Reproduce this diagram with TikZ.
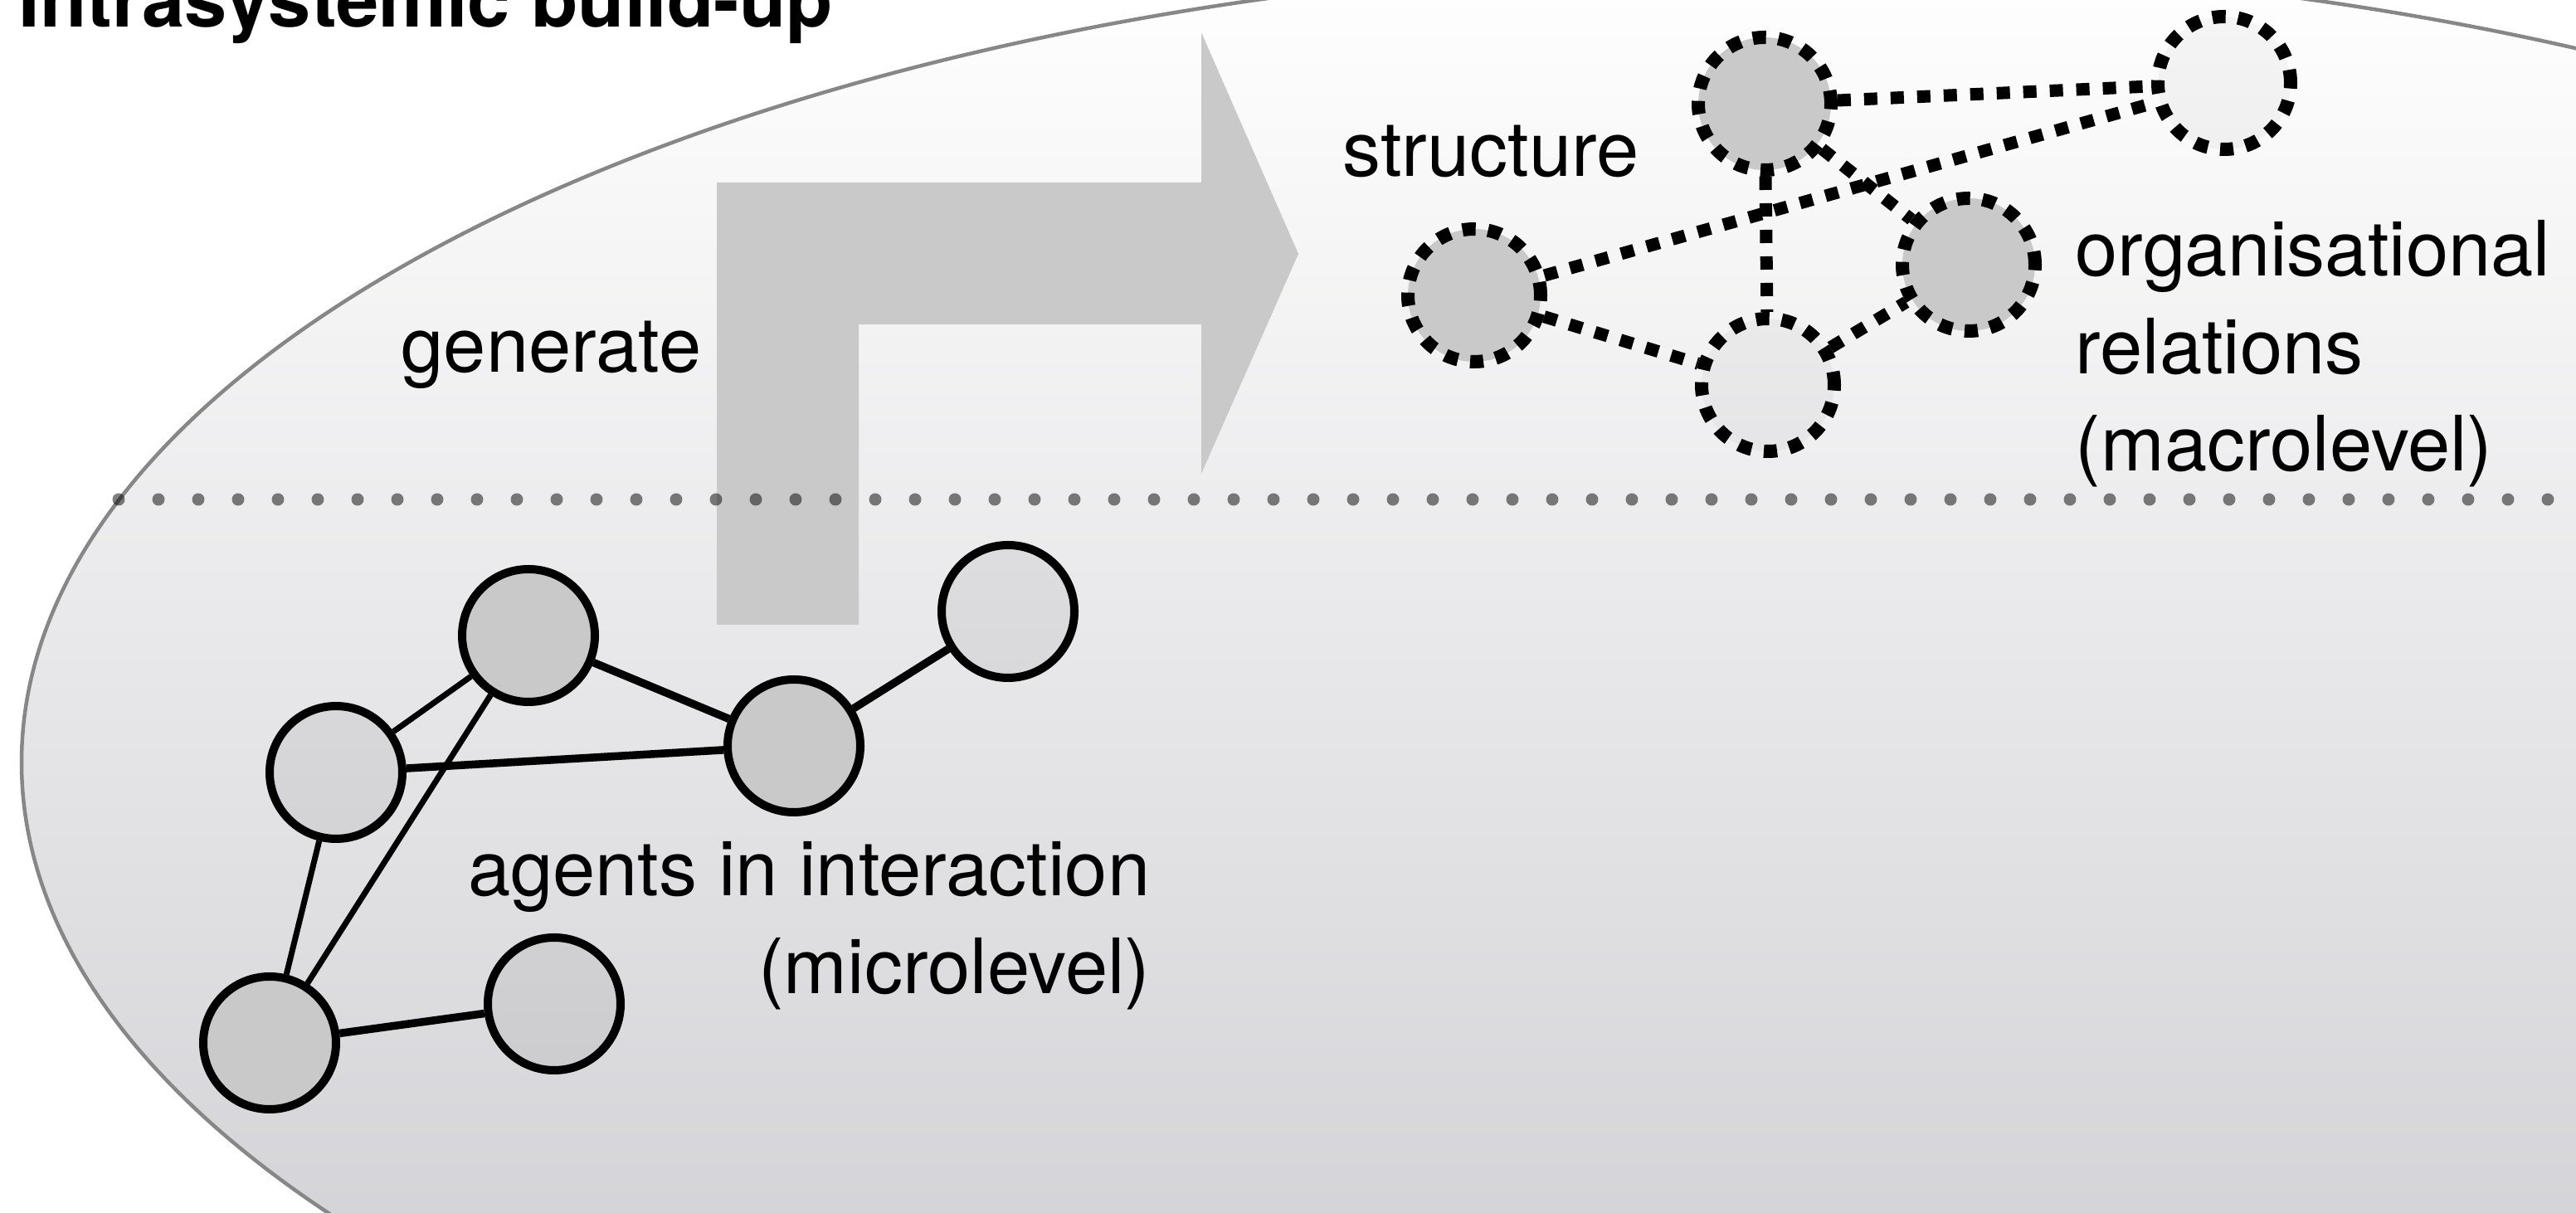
\documentclass[tikz,border=0pt]{standalone}
\usepackage{fontspec}
\setmainfont{TeX Gyre Heros}
\usepackage{tikz}
\definecolor{nodegray}{RGB}{201,201,201}
\definecolor{ellmid}{RGB}{232,232,234}
\definecolor{ellbot}{RGB}{201,201,206}
\definecolor{rimgray}{RGB}{135,135,135}

\begin{document}
\begin{tikzpicture}[
	agent/.style={circle,draw=black,line width=0.1cm,minimum size=1.6cm,inner sep=0},
	org/.style={circle,draw=black,line width=0.16cm,dash pattern=on 0.16cm off 0.15cm,minimum size=1.6cm,inner sep=0},
	dark/.style={fill=nodegray},
	pale/.style={fill=black,fill opacity=0.06},
	faint/.style={fill=black,fill opacity=0.035},
	tie/.style={line width=0.07cm},
	bond/.style={line width=0.095cm},
	orgtie/.style={line width=0.15cm,dash pattern=on 0.16cm off 0.16cm},
	lbl/.style={font=\fontsize{26.2}{33.4}\selectfont,inner sep=0}]
	\useasboundingbox (0,0) rectangle (31.05,-14.62);
	\clip (0,0) rectangle (31.05,-14.62);

	%SYSTEM
	\shade[top color=white,middle color=ellmid,bottom color=ellbot] (21.51,-9.19) ellipse [x radius=21.25,y radius=9.63];
	\draw[rimgray,line width=0.045cm] (21.51,-9.19) ellipse [x radius=21.25,y radius=9.63];

	%GENERATE ARROW
	\fill[nodegray] (8.64,-7.53)--(8.64,-2.20)--(14.48,-2.20)--(14.48,-0.39)--(15.65,-3.06)--(14.48,-5.71)--(14.48,-3.91)--(10.35,-3.91)--(10.35,-7.53)--cycle;

	%LEVEL BORDER
	\draw[black,opacity=0.5,line width=0.15cm,line cap=round,dash pattern=on 0cm off 0.48cm] (1.43,-6.02)--(31.3,-6.02);

	%MICROLEVEL
	\node[agent,dark] (a1) at (6.37,-7.66) {};
	\node[agent,pale] (a2) at (4.05,-9.31) {};
	\node[agent,dark] (a3) at (9.57,-8.99) {};
	\node[agent,pale] (a4) at (12.15,-7.37) {};
	\node[agent,dark] (a5) at (3.25,-12.57) {};
	\node[agent,pale] (a6) at (6.68,-12.10) {};
	%
	\draw[tie] (a1)--(a2);
	\draw[bond] (a1)--(a3);
	\draw[tie] (a1)--(a5);
	\draw[bond] (a2)--(a3);
	\draw[tie] (a2)--(a5);
	\draw[bond] (a3)--(a4);
	\draw[bond] (a5)--(a6);

	%MACROLEVEL
	\node[org,dark] (o1) at (21.27,-1.25) {};
	\node[org,faint] (o2) at (26.81,-1.00) {};
	\node[org,dark] (o3) at (17.77,-3.56) {};
	\node[org,dark] (o4) at (23.73,-3.19) {};
	\node[org,faint] (o5) at (21.31,-4.64) {};
	%
	\draw[orgtie] (o1)--(o2);
	\draw[orgtie] (o1)--(o5);
	\draw[orgtie] (o1)--(o4);
	\draw[orgtie] (o3)--(o2);
	\draw[orgtie] (o3)--(o5);
	\draw[orgtie] (o5)--(o4);

	%LABELS
	\node[lbl,anchor=base west,font=\fontsize{26.2}{33.4}\selectfont\bfseries] (title) at (0.22,-0.33) {Intrasystemic build-up};
	\node[lbl,anchor=base east] (gen) at (8.46,-4.49) {generate};
	\node[lbl,anchor=base west] (struct) at (16.18,-2.13) {structure};
	\node[lbl,anchor=north west,align=left] (macro) at (25.01,-2.65) {organisational\\relations\\(macrolevel)};
	\node[lbl,anchor=north east,align=right] (micro) at (13.87,-10.14) {agents in interaction\\(microlevel)};
\end{tikzpicture}
\end{document}
